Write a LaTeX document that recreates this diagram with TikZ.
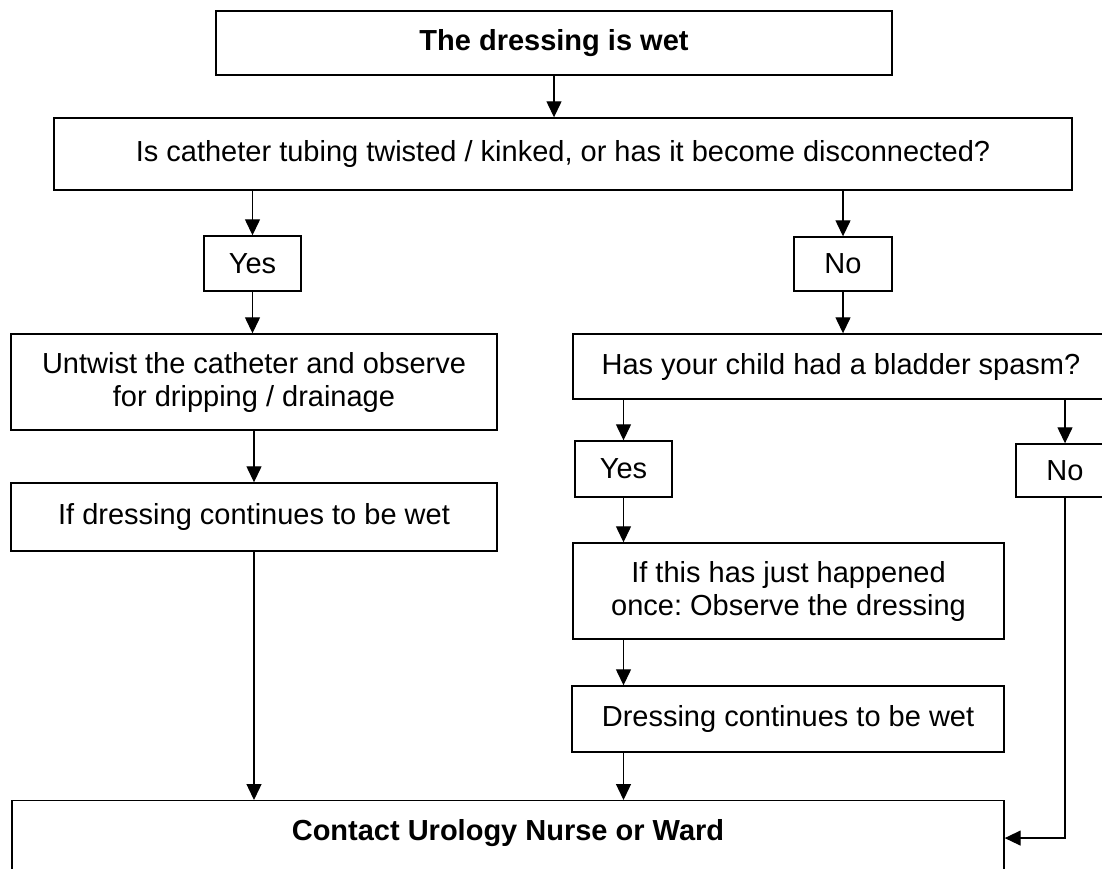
\documentclass[tikz,border=0pt]{standalone}
\usepackage{fontspec}
\setmainfont{Liberation Sans}
\usetikzlibrary{arrows.meta}
\frenchspacing
\newcommand{\flowfont}{\fontsize{29}{33}\selectfont}
\tikzset{
  box/.style={draw, line width=1.4pt, inner sep=0pt, align=center, font=\flowfont},
  arr/.style={-{Triangle[width=15pt,length=16pt]}, line width=1.3pt}
}
\begin{document}
\begin{tikzpicture}[x=1pt,y=-1pt]
        \useasboundingbox (0,0) rectangle (1102,868);
        \clip (0,0) rectangle (1102,868);

        \node[box, font=\flowfont\bfseries, minimum width=676pt, minimum height=64pt] (wet) at (554,43) {The dressing is wet};
        \node[box, minimum width=1018pt, minimum height=72pt] (tubing) at (563,154) {Is catheter tubing twisted / kinked, or has it become disconnected?};

        \node[box, minimum width=97pt, minimum height=55pt] (yes1) at (252.5,263.5) {Yes};
        \node[box, minimum width=98pt, minimum height=54pt] (no1) at (843,264) {No};

        \node[box, minimum width=486pt, minimum height=96pt] (untwist) at (254,382) {Untwist the catheter and observe\\for dripping / drainage};
        \node[box, minimum width=486pt, minimum height=68pt] (ifwet) at (254,517) {If dressing continues to be wet};

        \node[box, minimum width=536pt, minimum height=65pt] (spasm) at (841,366.5) {Has your child had a bladder spasm?};
        \node[box, minimum width=97pt, minimum height=56pt] (yes2) at (623.5,469) {Yes};
        \node[box, minimum width=98pt, minimum height=53pt] (no2) at (1065,470.5) {No};
        \node[box, minimum width=431pt, minimum height=96pt] (once) at (788.5,591) {If this has just happened\\once: Observe the dressing};
        \node[box, minimum width=432pt, minimum height=66pt] (stillwet) at (788,719) {Dressing continues to be wet};

        \node[box, font=\flowfont\bfseries, minimum width=992pt, text height=21pt, text depth=40pt, inner ysep=19pt, anchor=north] (contact) at (508,800) {Contact Urology Nurse or Ward};

        \draw[arr] (wet.south) -- (wet.south |- tubing.north);
        \draw[arr] (yes1.north |- tubing.south) -- (yes1.north);
        \draw[arr] (no1.north |- tubing.south) -- (no1.north);
        \draw[arr] (yes1.south) -- (yes1.south |- untwist.north);
        \draw[arr] (no1.south) -- (no1.south |- spasm.north);
        \draw[arr] (untwist.south) -- (ifwet.north);
        \draw[arr] (ifwet.south) -- (ifwet.south |- contact.north);
        \draw[arr] (yes2.north |- spasm.south) -- (yes2.north);
        \draw[arr] (no2.north |- spasm.south) -- (no2.north);
        \draw[arr] (yes2.south) -- (yes2.south |- once.north);
        \draw[arr] (yes2.south |- once.south) -- (yes2.south |- stillwet.north);
        \draw[arr] (yes2.south |- stillwet.south) -- (yes2.south |- contact.north);
        \draw[arr] (no2.south) |- (contact.mid east);
\end{tikzpicture}
\end{document}
